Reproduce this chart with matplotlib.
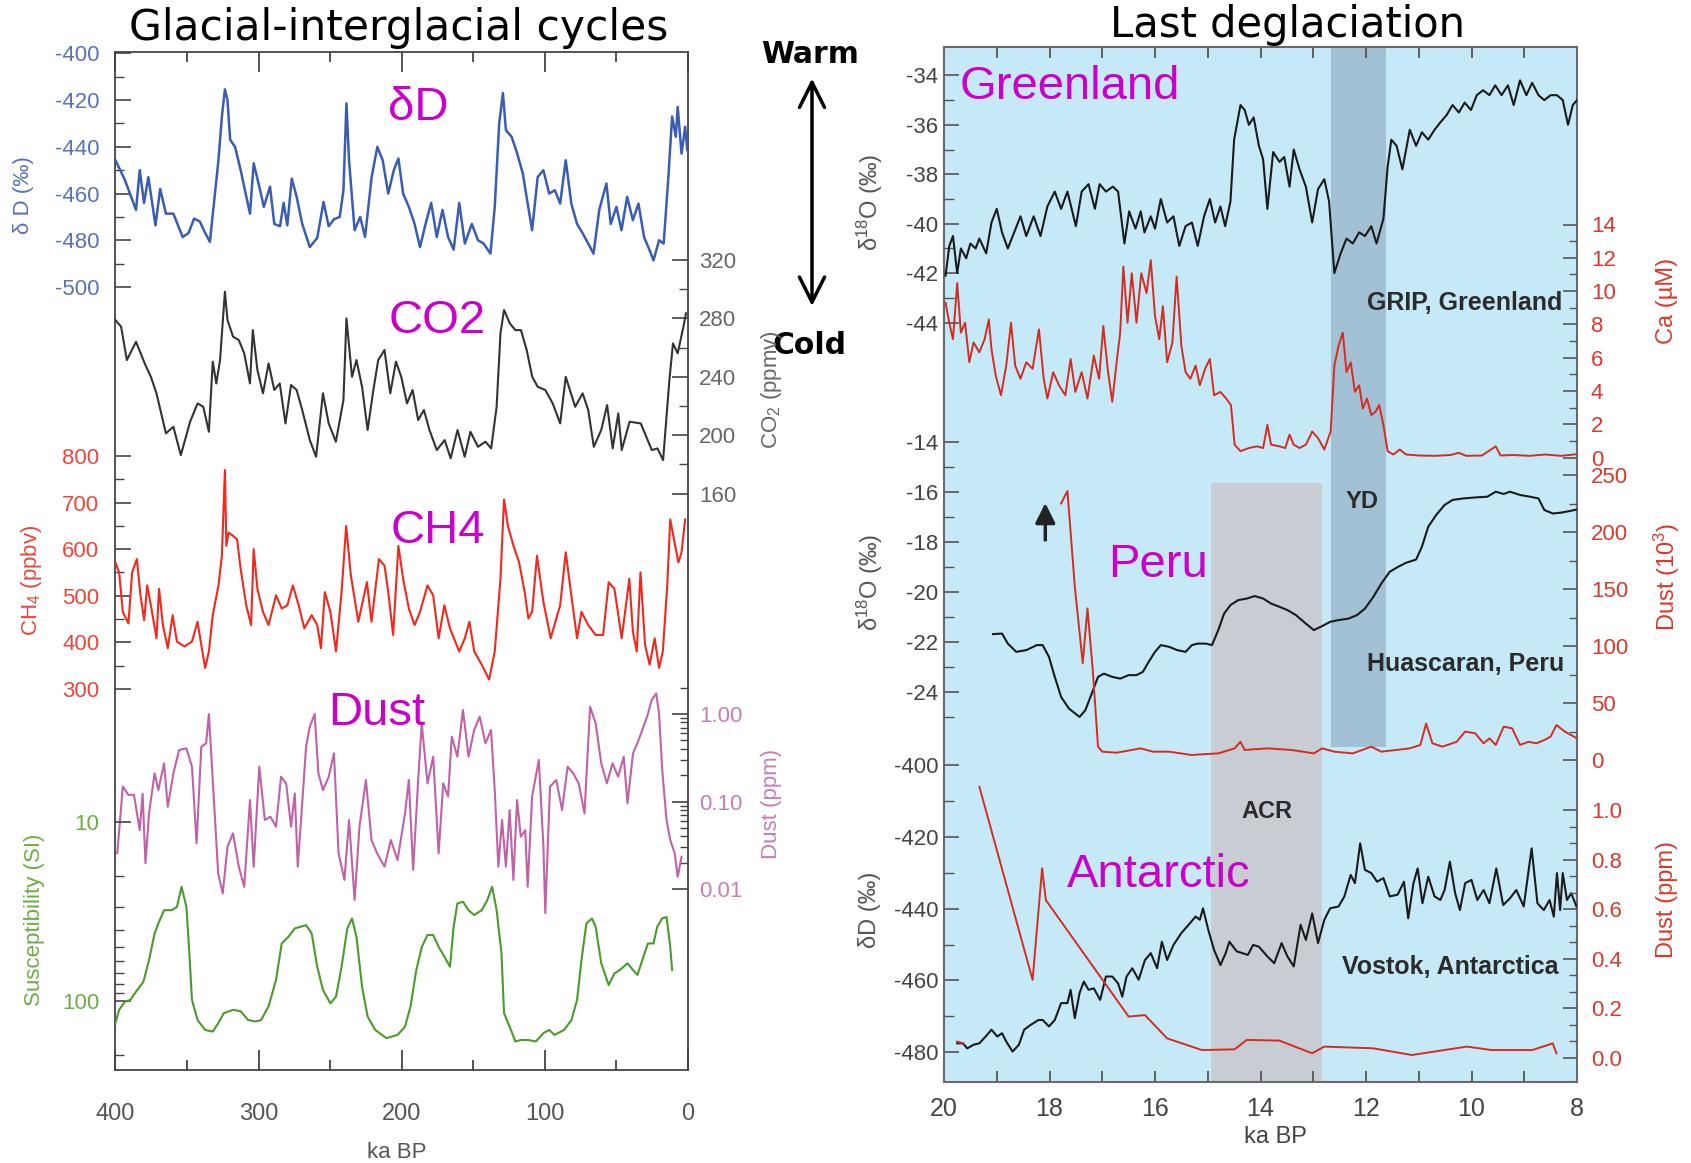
import numpy as np
import matplotlib
matplotlib.use("Agg")
import matplotlib.pyplot as plt
from matplotlib.ticker import FixedLocator, FuncFormatter, NullFormatter
from matplotlib.patches import FancyArrowPatch

plt.rcParams['font.family'] = ['Liberation Sans', 'DejaVu Sans']
plt.rcParams['axes.unicode_minus'] = False
plt.rcParams['mathtext.fontset'] = 'custom'
plt.rcParams['mathtext.rm'] = 'Liberation Sans'
plt.rcParams['mathtext.it'] = 'Liberation Sans:italic'
plt.rcParams['mathtext.bf'] = 'Liberation Sans:bold'
plt.rcParams['mathtext.default'] = 'regular'

# ---------------- LEFT PANEL DATA (ka BP) ----------------
DD_KA = [400,393.5,385.6,383,380,377,372,368.7,364.7,359.5,353,349,345,341,338,334,328,325.6,323.5,321.7,
         319.8,316.4,312.5,306,303.4,299.5,296.3,292,289,285,282.5,279.9,276.8,273.4,269.5,264.2,259,254.6,251,247.3,
         243.3,240.7,238.6,236.8,232.9,229,225.6,221,217,213.3,209.4,205.5,202.3,199,195,191,187.2,183.3,179.4,175.5,
         171.5,167.6,163.7,159.8,155.9,151,146.7,142.8,138,135,131.9,129.3,127.2,123.2,119.3,115.4,112,108.9,105,101,
         97,93,89.3,85.4,81.5,77.5,73.6,69.7,66,62,57,54,50,46.5,42.5,38.5,34.6,30.7,26.8,24.1,
         20.2,17,13.7,11.1,8.5,7.2,4.5,2,0.5]
DD_VAL = [-445.7,-454,-467,-450,-464,-453,-473.6,-458,-468.6,-468.6,-478.6,-477,-470.7,-472,-476,-480.7,-445.7,-427,-415.4,-420,
          -437,-440,-450,-468.6,-447,-457,-465.7,-457,-473,-474,-464,-473.6,-453.6,-461.4,-473,-482.9,-479,-463.6,-474,-471,
          -470,-458.6,-421.4,-445.7,-475.7,-470,-478.6,-452.9,-440,-445.7,-460,-450,-445,-460,-465.7,-473,-482.9,-473,-464,-478.6,
          -467,-478.6,-484,-464,-481.4,-473,-480,-481.4,-485.7,-465.7,-430,-417,-432.9,-435.7,-442.9,-451.4,-464.3,-475.7,-452.9,-450,
          -460,-458.6,-464.3,-445.7,-464.3,-473,-477,-481.4,-485.7,-467,-455.7,-473,-465.7,-475.7,-461.4,-471.4,-464.3,-478.6,-484.3,-488.6,
          -480,-481.4,-452.9,-427,-435.7,-422.9,-442.9,-431.4,-441.4]

CO2_KA = [400,396,392,385.6,379,375.2,371.3,364.7,359.5,354.3,347.8,342.6,338.6,334.7,332,329.5,326.9,323.5,321.7,317.8,
          313.8,310,306,304,300.8,296.9,293,289,285.2,281.2,277.3,273.4,269.5,264.2,259.8,255,251,246,240.7,238.6,
          234.7,231.6,227.7,223.8,219.8,216.4,212,208,204,200.3,196.3,192.4,188.5,184.5,180.6,175.5,170,165.8,161,156,
          152,146.7,141.5,137.5,133.7,131,128.5,124.5,120.6,116.7,112.7,108.8,105,99.7,94.5,89.3,85.4,78.8,73.6,69.7,
          65.8,60.6,56.5,52.6,48.7,46.3,40.8,33,25.3,21.3,17.4,13,10.5,7.2,3.2,1.4]
CO2_VAL = [278.9,274.3,251.5,264,248,240,228.7,201.3,205.8,186.4,209.3,221.8,219.5,202.4,250.4,235.5,251.5,298.3,278.9,267.5,
           265.2,256.1,235.5,272,244.7,228.7,249.2,231,235.5,208.1,234.4,231,217.3,196.7,185.3,228.7,208.1,195.6,224.1,280,
           240,251.5,233.2,203.6,231,251.5,258.4,228.7,250.4,240,221.8,231,210.4,217.3,203.6,189.9,196.7,184.2,203.6,185.3,
           202.4,192.1,195.6,191,219.5,269.8,285.8,276.6,272,272,258.4,240,233.2,231,221.8,208.1,240,219.5,228.7,217.3,
           192.1,203.6,220.7,191,215,189.9,209.3,208.1,189.9,191,183,237.8,262.9,256.1,274.3,283.5]

CH4_KA = [400,397.4,394.8,390.9,388.3,385,382.5,379.9,377.8,375.2,371.3,369.5,366.8,363.4,360,357,351.7,346.5,342.6,340,
          337.3,334.7,332,328,325.6,323.5,322.5,321,317.8,315,312.5,308.6,305.2,303.4,300.8,296.9,293,287.8,283.8,279.9,
          276,272,268,262.9,259,256.4,253.7,249.8,245.9,242,238.8,235.5,230.3,224.3,221.1,215.9,212,209.4,206,202.3,
          199,195,191,187.2,182,178,174.2,170.2,166.3,159.8,155.9,152.7,149.3,144.1,138.9,135,131,128.5,125.8,121.9,
          118,114.1,111.5,108.9,105.5,101,95.9,92,89.3,85.4,81.5,77.5,74.4,69.7,64.5,59.3,55.4,51.4,46.3,41,
          38.5,35.8,33.2,30,26.8,23.3,20.2,17.6,14.5,12.4,9.8,6.7,4.5,2]
CH4_VAL = [571.6,550,465,440.4,550,578.7,500.7,447.5,522,479.4,408.5,514.9,436.9,387.2,458.2,401.4,390.8,401.4,443.9,394.3,
           344.7,380.1,458.2,522,585.8,770,607,635.5,628.4,621.3,557.4,479.4,436.9,600,514.9,465.2,436.9,500.7,472.3,479.4,
           522,479.4,429.8,458.2,436.9,387.2,507.8,465.2,380.1,507.8,649.6,543.3,443.9,529,443.9,578.7,564.5,507.8,415.6,607,
           536.2,472.3,436.9,465.2,522,500.7,408.5,479.4,429.8,380.1,408.5,443.9,380.1,351.8,319.9,380.1,536.2,706.4,649.6,607,
           571.6,507.8,451,465.2,585.8,486.5,408.5,451,479.4,593,500.7,408.5,465.2,436.9,415.6,415.6,529,514.9,408.5,536.2,
           422.7,380.1,550,394.3,351.8,408.5,344.7,380.1,522,663.8,621.3,571.6,592.9,663.8]

DUST_KA = [398.7,394.8,390.9,387,383,381,379,376.5,372.6,370,366,363.4,359.5,355.5,350.4,346.5,343.3,340,336.6,334.7,
           332,328.2,325,321.7,317.8,313.8,310,306,303.4,299.5,295.6,291.7,287.8,284.3,280.7,277.3,274.7,272.6,269.5,266.8,
           264.2,260.8,258.2,255,251,247.3,244.1,240,236.8,232.9,229.5,225,221.1,217.2,212,207.6,202.9,197.7,195,192,
           188.5,186,182,178,174.2,171,167.6,165,161.1,157.2,153.3,149.4,145.5,141.5,137.6,135,132.5,129.9,127.2,124.6,
           122,119.4,116.8,113.7,112,108.9,104.2,101,99.7,96.4,92,88,84.1,80.2,76.3,72.3,68.4,64.5,60.6,56.7,
           52.7,48.8,44.9,42.3,38.4,34.5,31.1,28,25.4,22.2,20.2,18,15,12.4,9.3,7.2,4.5]
DUST_VAL = [0.0256,0.148,0.119,0.119,0.047,0.123,0.0197,0.073,0.21,0.135,0.273,0.087,0.21,0.388,0.405,0.25,0.0333,0.423,0.462,1.0,
            0.176,0.0151,0.0089,0.0305,0.0433,0.018,0.0106,0.104,0.018,0.25,0.0615,0.067,0.0516,0.192,0.161,0.0516,0.124,0.018,0.0953,0.423,
            0.716,1.0,0.21,0.135,0.192,0.355,0.0256,0.0127,0.0615,0.0075,0.0516,0.176,0.0363,0.0256,0.018,0.0363,0.0214,0.073,0.176,0.0165,
            0.176,0.782,0.161,0.325,0.0256,0.161,0.114,0.551,0.325,1.11,0.325,0.656,0.932,0.462,0.656,0.135,0.018,0.0615,0.018,0.08,
            0.0127,0.104,0.0396,0.047,0.0106,0.114,0.298,0.0305,0.0053,0.148,0.176,0.08,0.25,0.21,0.161,0.073,1.21,0.782,0.273,0.161,
            0.273,0.192,0.325,0.0953,0.355,0.505,0.716,1.0,1.44,1.72,1.0,0.229,0.0615,0.0363,0.0256,0.0138,0.0234]

SUS_KA = [400,397.4,393.5,389.6,385.6,380.4,376.5,372.6,370,366,360.8,357,353.8,350.4,348.6,346.5,342.6,337.3,332,328.2,
          324.3,317.8,312.5,307.3,302.1,298.2,293,287.8,283.8,279.1,274.7,270.8,266.8,262.9,259,255,249.8,245.9,242,238,
          234.7,231.6,227.7,223.8,218.5,210.7,202.9,197.7,193.8,189.8,185.9,182,178,174.2,170.2,166.3,163.7,161.1,157.2,153.3,
          149.4,144.1,140.2,136.8,133.7,130.3,128.5,124.6,120.6,116.7,111.5,106.3,101,97,93.2,86.6,81.4,77.5,74.4,71,
          67.1,64.5,60.6,55.4,51.4,47.6,42.3,38.4,35.3,31.9,28,24.1,21.5,18.1,15,12.4,11.1]
SUS_VAL = [133,112,101,98.7,88.7,78,59.1,42,37,31.2,31.2,29.9,23.1,29.9,49.9,98.7,127.6,145,148,133,
           117,112,114,127.6,130,127.6,107,76.4,47.8,43.9,39.4,38.6,37.8,42,64.4,86.9,103,94.6,64.4,39.4,
           34.7,43.9,83.2,122,145,161,154.5,139,107,67.2,49.9,42.9,42.9,49.9,56.6,64.4,38.6,28.6,28,31.2,
           33.2,31.2,27.4,23.1,31.2,54.3,117,139,168,165,165,168,151,145,154.5,145,127.6,98.7,59.1,37,
           34.7,38.6,61.7,81.5,70.2,67.2,61.7,67.2,71.6,59.1,47.8,47.8,38.6,34.7,34,49.9,67.2]

# ---------------- RIGHT PANEL DATA (ka BP) ----------------
GRIP_KA = [19.97,19.9,19.83,19.75,19.68,19.58,19.5,19.4,19.33,19.2,19.1,19.0,18.9,18.79,18.67,18.55,18.44,18.3,18.17,18.04,
           17.9,17.78,17.66,17.5,17.39,17.26,17.14,17.05,16.93,16.8,16.7,16.58,16.49,16.37,16.27,16.2,16.08,16.0,15.89,15.77,
           15.65,15.54,15.42,15.3,15.19,15.07,14.96,14.86,14.76,14.67,14.57,14.5,14.38,14.3,14.22,14.13,14.03,13.95,13.87,13.76,
           13.64,13.55,13.45,13.37,13.26,13.14,13.02,12.91,12.79,12.7,12.6,12.48,12.37,12.25,12.13,12.02,11.9,11.8,11.67,11.59,
           11.52,11.42,11.31,11.17,11.05,10.94,10.82,10.7,10.59,10.47,10.36,10.24,10.13,10.01,9.9,9.78,9.66,9.55,9.43,9.31,
           9.2,9.08,8.96,8.85,8.73,8.62,8.5,8.38,8.27,8.17,8.08,8.0]
GRIP_D18O = [-42.1,-40.9,-40.5,-42,-41,-41.4,-40.8,-41,-40.6,-41.2,-39.95,-39.4,-40.35,-41,-40.35,-39.7,-40.5,-39.7,-40.5,-39.3,
             -38.7,-39.4,-38.7,-40.1,-38.7,-38.4,-39.4,-38.4,-38.7,-38.5,-38.7,-40.8,-39.5,-40.2,-39.5,-40.35,-39.7,-40.2,-39,-39.95,
             -39.7,-40.9,-40.1,-39.95,-40.9,-39.7,-39,-39.95,-39.3,-40.1,-39.1,-36.6,-35.2,-35.4,-36,-35.7,-36.85,-37.4,-39.4,-37.1,
             -37.5,-37.3,-38.5,-37,-37.8,-38.5,-39.95,-38.6,-38.2,-39.1,-42,-41.2,-40.6,-40.8,-40.35,-40.5,-40.1,-40.8,-39.8,-37.7,
             -36.6,-36.85,-37.8,-36.2,-36.85,-36.3,-36.6,-36.2,-35.9,-35.6,-35.2,-35.5,-35.1,-35.4,-34.8,-34.6,-34.8,-34.4,-34.8,-34.4,
             -35.2,-34.2,-34.8,-34.3,-34.8,-35,-34.8,-34.8,-35,-36,-35.2,-35]

CA_KA = [19.97,19.9,19.83,19.75,19.68,19.6,19.52,19.44,19.33,19.23,19.15,19.1,19.02,18.92,18.82,18.73,18.65,18.55,18.44,18.32,
         18.2,18.11,18.04,17.93,17.82,17.7,17.6,17.51,17.39,17.28,17.16,17.06,16.98,16.89,16.81,16.72,16.66,16.6,16.52,16.44,
         16.35,16.26,16.16,16.08,16.0,15.92,15.85,15.77,15.67,15.59,15.5,15.42,15.33,15.23,15.15,15.05,14.96,14.88,14.76,14.65,
         14.56,14.49,14.38,14.22,14.07,13.95,13.87,13.8,13.64,13.53,13.45,13.37,13.26,13.14,13.02,12.91,12.79,12.67,12.6,12.52,
         12.44,12.37,12.29,12.21,12.13,12.06,11.98,11.9,11.82,11.75,11.67,11.59,11.48,11.36,11.24,11.0,10.7,10.4,10.24,10.1,
         9.8,9.54,9.45,9.2,8.9,8.6,8.3,8.0]
CA_VAL = [9.29,8.10,7.11,10.48,7.50,8.10,5.72,6.91,6.32,7.11,8.30,6.51,4.93,3.74,5.52,8.10,5.52,4.73,5.72,5.33,
          7.70,4.73,3.54,5.13,4.34,3.74,5.92,3.94,5.13,3.54,6.12,4.73,7.90,5.13,3.35,5.92,7.50,11.47,8.10,11.07,
          8.10,11.07,9.88,11.86,8.50,7.11,9.09,5.72,6.91,10.87,6.71,5.13,4.73,5.52,4.34,5.33,5.92,3.74,3.94,3.54,
          3.15,0.77,0.38,0.57,0.67,0.57,1.96,0.77,0.67,0.57,1.37,0.77,0.57,0.77,1.56,1.17,0.48,1.56,5.52,6.71,
          7.50,5.13,5.72,3.94,4.34,2.95,3.54,2.55,2.75,3.15,1.96,0.38,0.18,0.48,0.18,0.12,0.1,0.15,0.28,0.1,
          0.12,0.67,0.12,0.15,0.1,0.18,0.1,0.2]

PERU_KA = [19.07,18.9,18.79,18.63,18.44,18.24,18.13,18.01,17.9,17.78,17.63,17.43,17.32,17.2,17.08,16.97,16.81,16.66,16.5,16.35,
           16.23,16.12,16.0,15.89,15.73,15.58,15.42,15.3,15.19,15.03,14.92,14.8,14.69,14.57,14.42,14.26,14.11,13.95,13.8,13.64,
           13.49,13.33,13.14,12.99,12.83,12.68,12.52,12.33,12.17,12.02,11.86,11.71,11.55,11.39,11.24,11.05,10.94,10.82,10.67,10.51,
           10.36,10.16,9.93,9.7,9.54,9.39,9.27,9.08,8.89,8.73,8.62,8.46,8.31,8.11,8.0]
PERU_D18O = [-21.69,-21.67,-22.07,-22.4,-22.33,-22.13,-22.13,-22.6,-23.4,-24.2,-24.67,-25.0,-24.73,-24.07,-23.4,-23.27,-23.4,-23.47,-23.33,-23.33,
             -23.2,-22.8,-22.4,-22.13,-22.2,-22.33,-22.4,-22.13,-22.07,-22.07,-22.13,-21.53,-20.87,-20.53,-20.33,-20.27,-20.17,-20.27,-20.47,-20.6,
             -20.73,-20.93,-21.27,-21.53,-21.37,-21.2,-21.13,-21.07,-20.93,-20.67,-20.2,-19.67,-19.2,-19.0,-18.84,-18.71,-18.2,-17.4,-16.93,-16.53,
             -16.33,-16.27,-16.23,-16.2,-16.0,-16.09,-16.0,-16.13,-16.2,-16.27,-16.73,-16.87,-16.84,-16.76,-16.71]

PDUST_KA = [17.78,17.66,17.52,17.37,17.28,17.18,17.08,17.0,16.73,16.27,16.04,15.73,15.31,14.8,14.49,14.38,14.3,13.87,13.41,12.99,
            12.83,12.6,12.25,11.9,11.71,11.17,10.97,10.86,10.74,10.55,10.28,10.12,9.93,9.77,9.66,9.54,9.39,9.23,9.08,8.92,
            8.77,8.62,8.5,8.39,8.23,8.0]
PDUST_VAL = [225,236,152,85,133,79,11.7,7.3,6.4,10.2,7.3,7.3,4.4,5.8,10.2,16,8.8,10.2,8.8,5.8,
             10.2,7.3,5.8,11.7,7.3,10.2,13.2,32,14.6,11.7,16,24.9,23.4,14.6,19,13.2,29.2,27.8,13.2,16,
             14.6,17.5,20.5,30.7,24.9,19]

VOS_KA = [19.75,19.64,19.56,19.44,19.33,19.21,19.1,18.99,18.9,18.82,18.7,18.58,18.48,18.36,18.21,18.13,18.01,17.9,17.78,17.66,
          17.6,17.52,17.43,17.35,17.26,17.16,17.04,16.93,16.81,16.7,16.62,16.54,16.43,16.31,16.19,16.08,15.96,15.87,15.77,15.65,
          15.5,15.34,15.23,15.15,15.09,14.99,14.88,14.76,14.66,14.59,14.45,14.34,14.24,14.14,14.03,13.87,13.74,13.6,13.49,13.37,
          13.24,13.14,13.02,12.91,12.79,12.68,12.52,12.41,12.29,12.21,12.11,12.02,11.9,11.79,11.67,11.55,11.4,11.28,11.2,11.1,
          11.02,10.93,10.82,10.7,10.59,10.51,10.41,10.31,10.22,10.12,10.0,9.89,9.77,9.66,9.53,9.4,9.27,9.15,9.01,8.86,
          8.75,8.63,8.52,8.44,8.38,8.32,8.27,8.19,8.11,8.01]
VOS_DD = [-477.5,-477.5,-478.9,-477.9,-477.5,-475.6,-473.7,-475.6,-474.7,-477,-479.8,-477.9,-473.7,-472.4,-471,-471,-472.8,-471,-466.3,-466.3,
          -462.6,-470.5,-463.5,-460.3,-462.6,-462.2,-465.4,-458.9,-458.9,-460.8,-464.5,-458.9,-456.6,-459.8,-454.3,-452.4,-456.6,-449.2,-454.3,-450.1,
          -446.8,-444.1,-442.2,-443.1,-439.9,-445.9,-451.5,-455.7,-452.4,-449.2,-451.9,-452.4,-452.9,-450.1,-450.6,-453.3,-455.2,-449.6,-453.3,-456.1,
          -444.5,-448.7,-441.3,-449.6,-443.1,-439.9,-439.4,-436.6,-430.6,-432.9,-421.8,-429.2,-430.1,-432.5,-431.5,-436.6,-436.1,-432.5,-442.7,-432.9,
          -428.8,-438.5,-431.1,-436.6,-437.6,-434.8,-426.9,-435.7,-440.4,-432.9,-432,-437.6,-434.8,-438.5,-428.8,-439,-437.1,-434.8,-439.4,-423.2,
          -438.5,-440.4,-437.6,-442.2,-430.1,-440.4,-430.1,-437.6,-435.7,-439.4]

VDUST_KA_A = [19.75, 19.64]
VDUST_VAL_A = [0.066, 0.059]
VDUST_KA_B = [19.33,18.32,18.14,18.07,16.5,16.19,15.77,15.11,14.49,14.26,13.64,13.02,12.79,11.86,11.13,10.09,9.62,8.85,8.46,8.39]
VDUST_VAL_B = [1.094,0.315,0.765,0.637,0.167,0.173,0.079,0.032,0.035,0.073,0.07,0.019,0.046,0.039,0.012,0.046,0.032,0.032,0.059,0.019]

ACR_KA = [14.93, 12.84]
YD_KA = [12.66, 11.62]

# tick values
L_XMAJ = [400, 300, 200, 100, 0]
L_XMIN = [350, 250, 150, 50]
R_XMAJ = [20, 18, 16, 14, 12, 10, 8]
R_XMIN = [19, 17, 15, 13, 11, 9]

# ---------------- FIGURE ----------------
W, H = 1691, 1163
fig = plt.figure(figsize=(W / 100, H / 100), dpi=100)
fig.patch.set_facecolor('white')

LX0, LX1, LT, LB = 115.4, 688.0, 51.7, 1069.6
RX0, RX1, RT, RB = 944.0, 1577.0, 46.7, 1082.0


def rect(x0, x1, top, bot):
    return [x0 / W, 1 - bot / H, (x1 - x0) / W, (bot - top) / H]


def lims(v1, p1, v2, p2, top, bot, log=False):
    f = np.log10 if log else (lambda v: v)
    a1, a2 = f(v1), f(v2)
    s = (a2 - a1) / (p2 - p1)
    at = a1 + (top - p1) * s
    ab = a1 + (bot - p1) * s
    return (10 ** ab, 10 ** at) if log else (ab, at)


def T(x, y, s, **kw):
    return fig.text(x / W, 1 - y / H, s, **kw)


def overlay(r, xlim, side, ylim, major, minor, fmt, lcolor, tcolor, log=False,
            maj_len=11, min_len=6.5, pad=8, fs=16):
    ax = fig.add_axes(r)
    ax.set_xlim(*xlim)
    if log:
        ax.set_yscale('log')
    ax.set_ylim(*ylim)
    ax.patch.set_visible(False)
    for s in ax.spines.values():
        s.set_visible(False)
    ax.tick_params(axis='x', which='both', bottom=False, top=False,
                   labelbottom=False, labeltop=False)
    ax.yaxis.set_major_locator(FixedLocator(major))
    ax.yaxis.set_major_formatter(FuncFormatter(lambda v, p: fmt % v))
    ax.yaxis.set_minor_locator(FixedLocator(minor))
    ax.yaxis.set_minor_formatter(NullFormatter())
    left = side == 'left'
    ax.tick_params(axis='y', which='both', left=left, right=not left,
                   labelleft=left, labelright=not left, direction='in', color=tcolor)
    ax.tick_params(axis='y', which='major', length=maj_len, width=1.2,
                   labelcolor=lcolor, labelsize=fs, pad=pad)
    ax.tick_params(axis='y', which='minor', length=min_len, width=1.0)
    return ax


# ---------- left panel frame ----------
axL = fig.add_axes(rect(LX0, LX1, LT, LB))
axL.set_xlim(400, 0)
axL.set_ylim(0, 1)
axL.set_yticks([])
axL.xaxis.set_major_locator(FixedLocator(L_XMAJ))
axL.xaxis.set_major_formatter(FuncFormatter(lambda v, p: '%d' % v))
axL.xaxis.set_minor_locator(FixedLocator(L_XMIN))
axL.tick_params(axis='x', which='both', direction='in', top=True, bottom=True,
                color='#444444', width=1.3)
axL.tick_params(axis='x', which='major', length=14.5, labelsize=17,
                labelcolor='#555555', pad=24)
axL.tick_params(axis='x', which='minor', length=7.5)
for s in axL.spines.values():
    s.set_color('#444444')
    s.set_linewidth(1.3)

LXL = (400, 0)
TC = '#444444'
C_DD, C_DDL = '#3a5cb2', '#5a72b8'
C_CO2, C_CO2L = '#333333', '#666666'
C_CH4, C_CH4L = '#f0281e', '#e8473a'
C_DU, C_DUL = '#c062a8', '#c57fb5'
C_SU, C_SUL = '#4a9a2c', '#6cad45'

a = overlay(rect(LX0, LX1, LT, LB), LXL, 'left', lims(-400, 53.4, -500, 287.0, LT, LB),
            list(range(-400, -501, -20)), list(range(-410, -500, -20)), '%d', C_DDL, TC,
            maj_len=11.5, min_len=6.5, pad=11.5, fs=16)
a.plot(DD_KA, DD_VAL, color=C_DD, lw=1.8)

a = overlay(rect(LX0, LX1, LT, LB), LXL, 'right', lims(320, 260.0, 160, 493.7, LT, LB),
            [320, 280, 240, 200, 160], [300, 260, 220, 180], '%d', C_CO2L, TC,
            maj_len=11.5, min_len=6.5, pad=8, fs=16)
a.plot(CO2_KA, CO2_VAL, color=C_CO2, lw=1.5)

a = overlay(rect(LX0, LX1, LT, LB), LXL, 'left', lims(800, 456.0, 300, 688.8, LT, LB),
            [800, 700, 600, 500, 400, 300], [750, 650, 550, 450, 350], '%d', C_CH4L, TC,
            maj_len=11.5, min_len=6.5, pad=11.5, fs=16)
a.plot(CH4_KA, CH4_VAL, color=C_CH4, lw=1.5)

a = overlay(rect(LX0, LX1, LT, LB), LXL, 'right', lims(1.0, 714.0, 0.01, 889.0, LT, LB, log=True),
            [1.0, 0.1, 0.01], [0.02, 0.03, 0.04, 0.05, 0.06, 0.07, 0.08, 0.09,
                               0.2, 0.3, 0.4, 0.5, 0.6, 0.7, 0.8, 0.9, 2.0],
            '%.2f', C_DUL, TC, log=True, maj_len=11.5, min_len=6.0, pad=8, fs=16)
a.plot(DUST_KA, DUST_VAL, color=C_DU, lw=1.5)

a = overlay(rect(LX0, LX1, LT, LB), LXL, 'left', lims(10, 821.5, 100, 1001.0, LT, LB, log=True),
            [10, 100], [20, 30, 40, 50, 60, 70, 80, 90, 200], '%d', C_SUL, TC, log=True,
            maj_len=11.5, min_len=6.5, pad=11.5, fs=16)
a.plot(SUS_KA, SUS_VAL, color=C_SU, lw=1.5)

# ---------- right panel frame ----------
axR = fig.add_axes(rect(RX0, RX1, RT, RB))
axR.set_facecolor('#c6e9f8')
axR.set_xlim(20, 8)
axR.set_ylim(0, 1)
axR.set_yticks([])
axR.xaxis.set_major_locator(FixedLocator(R_XMAJ))
axR.xaxis.set_major_formatter(FuncFormatter(lambda v, p: '%d' % v))
axR.xaxis.set_minor_locator(FixedLocator(R_XMIN))
axR.tick_params(axis='x', which='both', direction='in', top=True, bottom=True,
                color='#555555', width=1.3, length=8)
axR.tick_params(axis='x', which='major', labelsize=18, labelcolor='#444444', pad=10.5)
for s in axR.spines.values():
    s.set_color('#6a6a6a')
    s.set_linewidth(1.5)
RH = RB - RT
axR.axvspan(ACR_KA[0], ACR_KA[1], ymin=0, ymax=(RB - 483.3) / RH, color='#c8cdd4', lw=0)
axR.axvspan(YD_KA[0], YD_KA[1], ymin=(RB - 746.7) / RH, ymax=1.0, color='#a3c1d4', lw=0)

RXL = (20, 8)
TCR = '#555555'
C_K = '#1a1a1a'
C_R = '#d42c20'
C_RL = '#d8392c'
C_KL = '#444444'

a = overlay(rect(RX0, RX1, RT, RB), RXL, 'left', lims(-34, 75.4, -44, 322.6, RT, RB),
            list(range(-34, -45, -2)), list(range(-35, -44, -2)), '%d', C_KL, TCR,
            maj_len=11, min_len=7, pad=4, fs=16)
a.plot(GRIP_KA, GRIP_D18O, color=C_K, lw=1.5)

a = overlay(rect(RX0, RX1, RT, RB), RXL, 'right', lims(14, 224.5, 0, 457.5, RT, RB),
            list(range(0, 15, 2)), list(range(1, 14, 2)), '%d', C_RL, TCR,
            maj_len=10, min_len=6, pad=10, fs=16)
a.plot(CA_KA, CA_VAL, color=C_R, lw=1.4)

a = overlay(rect(RX0, RX1, RT, RB), RXL, 'left', lims(-16, 491.7, -24, 691.9, RT, RB),
            list(range(-14, -25, -2)), list(range(-15, -26, -2)), '%d', C_KL, TCR,
            maj_len=11, min_len=7, pad=4, fs=16)
a.plot(PERU_KA, PERU_D18O, color=C_K, lw=1.5)

a = overlay(rect(RX0, RX1, RT, RB), RXL, 'right', lims(250, 475.0, 0, 760.0, RT, RB),
            list(range(0, 251, 50)), list(range(25, 250, 50)), '%d', C_RL, TCR,
            maj_len=10, min_len=6, pad=10, fs=16)
a.plot(PDUST_KA, PDUST_VAL, color=C_R, lw=1.4)

a = overlay(rect(RX0, RX1, RT, RB), RXL, 'left', lims(-400, 765.0, -480, 1052.3, RT, RB),
            list(range(-400, -481, -20)), list(range(-410, -480, -20)), '%d', C_KL, TCR,
            maj_len=11, min_len=7, pad=4, fs=16)
a.plot(VOS_KA, VOS_DD, color=C_K, lw=1.5)

a = overlay(rect(RX0, RX1, RT, RB), RXL, 'right', lims(1.0, 810.0, 0.0, 1058.0, RT, RB),
            [0.0, 0.2, 0.4, 0.6, 0.8, 1.0],
            [0.0667, 0.1333, 0.2667, 0.3333, 0.4667, 0.5333, 0.6667, 0.7333, 0.8667, 0.9333],
            '%.1f', C_RL, TCR, maj_len=10, min_len=6, pad=10, fs=16)
a.plot(VDUST_KA_A, VDUST_VAL_A, color=C_R, lw=1.4)
a.plot(VDUST_KA_B, VDUST_VAL_B, color=C_R, lw=1.4)

# ---------- titles & labels ----------
T(398.5, 40, 'Glacial-interglacial cycles', ha='center', va='baseline', fontsize=30.5,
  family='DejaVu Sans', color='black')
T(1287, 36.5, 'Last deglaciation', ha='center', va='baseline', fontsize=30,
  family='DejaVu Sans', color='black')

T(810, 63, 'Warm', ha='center', va='baseline', fontsize=21.5, family='DejaVu Sans',
  weight='bold', color='black')
T(810, 354, 'Cold', ha='center', va='baseline', fontsize=21.5, family='DejaVu Sans',
  weight='bold', color='black')
fig.add_artist(FancyArrowPatch((812 / W, 1 - 306 / H), (812 / W, 1 - 78.5 / H),
                               transform=fig.transFigure,
                               arrowstyle='<->,head_length=0.9,head_width=0.45',
                               mutation_scale=20, lw=2.5, color='black',
                               shrinkA=0, shrinkB=0))

MAG = '#cc00cc'
T(418, 120, 'δD', ha='center', va='baseline', fontsize=34, color=MAG)
T(437, 333, 'CO2', ha='center', va='baseline', fontsize=34, color=MAG)
T(438, 543, 'CH4', ha='center', va='baseline', fontsize=34, color=MAG)
T(377, 725, 'Dust', ha='center', va='baseline', fontsize=34, color=MAG)
T(1069.5, 99, 'Greenland', ha='center', va='baseline', fontsize=34, color=MAG)
T(1158, 576.7, 'Peru', ha='center', va='baseline', fontsize=34, color=MAG)
T(1159, 887, 'Antarctic', ha='center', va='baseline', fontsize=34, color=MAG)

# axis labels left panel
T(24, 195, 'δ D (‰)', rotation=90, ha='center', va='center', fontsize=16, color=C_DDL)
T(772, 390, 'CO$_2$ (ppmv)', rotation=90, ha='center', va='center', fontsize=16, color=C_CO2L)
T(32, 580, 'CH$_4$ (ppbv)', rotation=90, ha='center', va='center', fontsize=16, color=C_CH4L)
T(35, 920, 'Susceptibility (SI)', rotation=90, ha='center', va='center', fontsize=16, color=C_SUL)
T(772, 804, 'Dust (ppm)', rotation=90, ha='center', va='center', fontsize=16, color=C_DUL)
T(397, 1152, 'ka BP', ha='center', va='center', fontsize=16, color='#555555')

# axis labels right panel
T(870, 202, 'δ$^{18}$O (‰)', rotation=90, ha='center', va='center', fontsize=17, color='#555555')
T(870, 582, 'δ$^{18}$O (‰)', rotation=90, ha='center', va='center', fontsize=17, color='#555555')
T(870, 910, 'δD (‰)', rotation=90, ha='center', va='center', fontsize=17, color='#555555')
T(1667, 301, 'Ca (µM)', rotation=90, ha='center', va='center', fontsize=17, color=C_RL)
T(1667, 577, 'Dust (10$^3$)', rotation=90, ha='center', va='center', fontsize=17, color=C_RL)
T(1667, 900, 'Dust (ppm)', rotation=90, ha='center', va='center', fontsize=17, color=C_RL)
T(1275, 1137, 'ka BP', ha='center', va='center', fontsize=17, color='#444444')

# annotations right panel
AK = '#2b2b2b'
T(1562, 303, 'GRIP, Greenland', ha='right', va='center', fontsize=18, weight='bold', color=AK)
T(1362.5, 502, 'YD', ha='center', va='center', fontsize=17, weight='bold', color=AK)
T(1564, 664, 'Huascaran, Peru', ha='right', va='center', fontsize=18, weight='bold', color=AK)
T(1266.5, 812, 'ACR', ha='center', va='center', fontsize=17, weight='bold', color=AK)
T(1558, 967, 'Vostok, Antarctica', ha='right', va='center', fontsize=18, weight='bold', color=AK)
fig.add_artist(FancyArrowPatch((1045.3 / W, 1 - 540 / H), (1045.3 / W, 1 - 503 / H),
                               transform=fig.transFigure,
                               arrowstyle='-|>,head_length=0.6,head_width=0.3',
                               mutation_scale=20, lw=2.5, color='#222222',
                               shrinkA=0, shrinkB=0))

fig.savefig('out.png', dpi=100)
